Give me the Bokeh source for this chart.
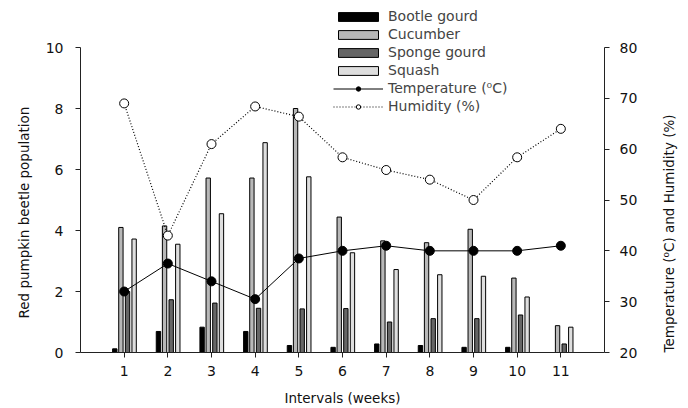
import math
from bokeh.plotting import figure
from bokeh.models import Range1d, LinearAxis, Legend, LegendItem, FixedTicker, ColumnDataSource, Title
from bokeh.embed import file_html
from bokeh.resources import INLINE

weeks = [1, 2, 3, 4, 5, 6, 7, 8, 9, 10, 11]
bottle_gourd = [0.12, 0.69, 0.83, 0.69, 0.23, 0.17, 0.28, 0.23, 0.17, 0.17, 0.0]
cucumber = [4.1, 4.15, 5.72, 5.72, 8.0, 4.44, 3.66, 3.6, 4.04, 2.44, 0.88]
sponge_gourd = [2.0, 1.73, 1.62, 1.45, 1.43, 1.44, 1.0, 1.11, 1.11, 1.23, 0.28]
squash = [3.72, 3.55, 4.55, 6.88, 5.76, 3.27, 2.72, 2.55, 2.5, 1.82, 0.83]
temperature = [32, 37.5, 34, 30.5, 38.5, 40, 41, 40, 40, 40, 41]
humidity = [69, 43, 61, 68.4, 66.4, 58.4, 55.9, 54, 50, 58.4, 64]

left_ticks = [0, 2, 4, 6, 8, 10]
right_ticks = [20, 30, 40, 50, 60, 70, 80]

FONT = "DejaVu Sans"

# frame extends to the top of the canvas so the legend is not clipped;
# the axes are limited to their data bounds
LEFT_TOP = 10 * 352 / 305
RIGHT_TOP = 20 + 60 * 352 / 305

p = figure(width=688, height=408, output_backend="svg", toolbar_location=None,
           x_range=Range1d(0, 12), y_range=Range1d(0, LEFT_TOP),
           min_border_left=80, min_border_right=83, min_border_top=0, min_border_bottom=56)
p.outline_line_color = None
p.xgrid.visible = False
p.ygrid.visible = False
p.extra_y_ranges = {"right": Range1d(20, RIGHT_TOP)}

offsets = [-0.215, -0.075, 0.077, 0.228]
series = [bottle_gourd, cucumber, sponge_gourd, squash]
colors = ["#000000", "#b8b8b8", "#666666", "#dedede"]
names = ["Bootle gourd", "Cucumber", "Sponge gourd", "Squash"]
bar_renderers = []
for off, vals, col in zip(offsets, series, colors):
    src = ColumnDataSource(dict(x=[w + off for w in weeks], top=vals))
    r = p.vbar(x="x", top="top", bottom=0, width=0.1, source=src,
               fill_color=col, line_color="black", line_width=1)
    bar_renderers.append(r)

tl = p.line(weeks, temperature, y_range_name="right", line_color="black", line_width=1)
ts = p.scatter(weeks, temperature, y_range_name="right", size=9, marker="circle",
               fill_color="black", line_color="black")
hl = p.line(weeks, humidity, y_range_name="right", line_color="black", line_width=1.2,
            line_dash="1 2")
hs = p.scatter(weeks, humidity, y_range_name="right", size=9, marker="circle",
               fill_color="white", line_color="black")

def style(ax):
    ax.major_tick_out = 5
    ax.major_tick_in = 0
    ax.minor_tick_out = 0
    ax.minor_tick_in = 0
    ax.axis_line_color = "#222222"
    ax.major_tick_line_color = "#222222"
    ax.major_label_text_font = FONT
    ax.major_label_text_font_size = "14px"
    ax.major_label_text_color = "#111111"
    ax.axis_label_text_font = FONT
    ax.axis_label_text_font_size = "13.5px"
    ax.axis_label_text_font_style = "normal"
    ax.axis_label_text_color = "#111111"

p.xaxis.ticker = FixedTicker(ticks=weeks)
p.xaxis.axis_label = "Intervals (weeks)"
p.xaxis.major_label_standoff = 8
p.xaxis.axis_label_standoff = 11
style(p.xaxis[0])

ly = p.yaxis[0]
ly.ticker = FixedTicker(ticks=left_ticks)
ly.bounds = (0, 10)
ly.major_label_standoff = 12
style(ly)

left_title = Title(text="Red pumpkin beetle population", align="left", offset=34,
                   text_font=FONT, text_font_size="13.5px", text_font_style="normal",
                   text_color="#111111", standoff=22)
p.add_layout(left_title, "left")

ry = LinearAxis(y_range_name="right", ticker=FixedTicker(ticks=right_ticks), bounds=(20, 80),
                axis_label="Temperature (\u2070C) and Humidity (%)")
ry.major_label_standoff = 10
ry.axis_label_standoff = 29
style(ry)
props = ry.properties()
if "axis_label_orientation" in props:
    ry.axis_label_orientation = math.pi / 2
if "axis_label_align" in props:
    ry.axis_label_align = "start"
p.add_layout(ry, "right")

items = [LegendItem(label=n, renderers=[r]) for n, r in zip(names, bar_renderers)]
items.append(LegendItem(label="Temperature (\u2070C)", renderers=[tl, ts]))
items.append(LegendItem(label="Humidity (%)", renderers=[hl, hs]))
legend = Legend(items=items, location=(253, 237), glyph_width=50, glyph_height=11,
                label_height=18, spacing=0, padding=0, margin=0,
                label_text_font=FONT, label_text_font_size="14px", label_standoff=5,
                border_line_color=None, background_fill_alpha=0)
p.add_layout(legend, "center")

open("out.html", "w").write(file_html(p, INLINE))
